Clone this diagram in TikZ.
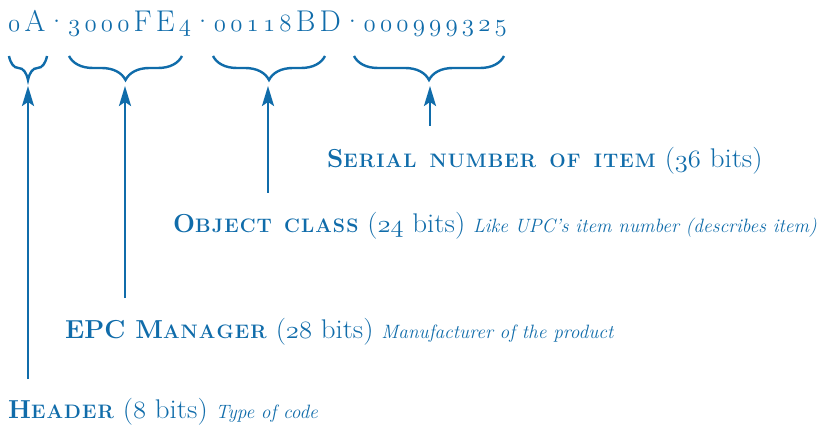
\documentclass[tikz,border=0pt]{standalone}
\usetikzlibrary{arrows.meta,decorations.pathreplacing}
\definecolor{epcblue}{RGB}{16,108,170}
\newcommand{\osn}[1]{{\usefont{OML}{cmm}{m}{it}#1}}
\newcommand{\cdg}[1]{{\fontsize{33}{34}\selectfont\usefont{OML}{cmm}{m}{it}#1}}
\newcommand{\descf}{\fontsize{19.3}{22}\selectfont\itshape}
\makeatletter
\newcommand{\lsw}[1]{{\fontsize{19.5}{24}\selectfont\bfseries\@tfor\@ch:=#1\do{\@ch\kern1.1pt}}}
\makeatother
\newcommand{\bcap}[1]{{\bfseries#1}}
\newcommand{\scsp}{\hspace{12pt}}
\newcommand{\reg}[1]{\scalebox{1.07}[1]{\fontsize{27}{30}\selectfont#1}}
\newcommand{\lsp}{\kern4.2pt}
\newcommand{\mdot}{\kern-3.6pt·\kern-3.6pt}
\begin{document}
\begin{tikzpicture}[x=1pt,y=-1pt,
  lbl/.style={anchor=base west,inner sep=0pt,text=epcblue,font=\fontsize{26}{30}\selectfont},
  brc/.style={draw=epcblue,line width=2.4pt,decorate,decoration={brace,mirror,amplitude=24pt}},
  arr/.style={draw=epcblue,line width=2.4pt,-{Stealth[length=20pt,width=12pt,inset=4pt]}}]
\useasboundingbox (0,0) rectangle (821,430);
\node[lbl,font=\fontsize{30}{34}\selectfont] (code) at (8,32)
  {\cdg{0}\lsp A\lsp\mdot\lsp\cdg{3}\lsp\cdg{0}\lsp\cdg{0}\lsp\cdg{0}\lsp F\lsp E\lsp\cdg{4}\lsp\mdot\lsp%
   \cdg{0}\lsp\cdg{0}\lsp\cdg{1}\lsp\cdg{1}\lsp\cdg{8}\lsp B\lsp D\lsp\mdot\lsp%
   \cdg{0}\lsp\cdg{0}\lsp\cdg{0}\lsp\cdg{9}\lsp\cdg{9}\lsp\cdg{9}\lsp\cdg{3}\lsp\cdg{2}\lsp\cdg{5}};
% braces
\coordinate (b1l) at (9,56);   \coordinate (b1r) at (47,56);
\coordinate (b2l) at (69,56);  \coordinate (b2r) at (182,56);
\coordinate (b3l) at (213,56); \coordinate (b3r) at (325,56);
\coordinate (b4l) at (354,56); \coordinate (b4r) at (504,56);
\draw[brc] (b1l) -- (b1r);
\draw[brc] (b2l) -- (b2r);
\draw[brc] (b3l) -- (b3r);
\draw[brc] (b4l) -- (b4r);
% arrow tips and tails
\coordinate (a1) at (28,86);  \coordinate (s1) at (28,379);
\coordinate (a2) at (125,86); \coordinate (s2) at (125,298);
\coordinate (a3) at (268,86); \coordinate (s3) at (268,193);
\coordinate (a4) at (430,86); \coordinate (s4) at (430,126);
\draw[arr] (s1) -- (a1);
\draw[arr] (s2) -- (a2);
\draw[arr] (s3) -- (a3);
\draw[arr] (s4) -- (a4);
% labels
\node[lbl] (serial) at (327,168) {\bcap{S}\lsw{ERIAL}\scsp\lsw{NUMBER}\scsp\lsw{OF}\scsp\lsw{ITEM} \reg{(\osn{36} bits)}};
\node[lbl] (object) at (173,233) {\bcap{O}\lsw{BJECT}\hspace{11pt}\lsw{CLASS} \reg{(\osn{24} bits)} {\descf Like UPC's item number (describes item)}};
\node[lbl] (epc) at (65,338) {\bcap{EPC M}\lsw{ANAGER} \reg{(\osn{28} bits)} {\descf Manufacturer of the product}};
\node[lbl] (header) at (8,418) {\bcap{H}\lsw{EADER} \reg{(\osn{8} bits)} {\descf Type of code}};
\end{tikzpicture}
\end{document}
